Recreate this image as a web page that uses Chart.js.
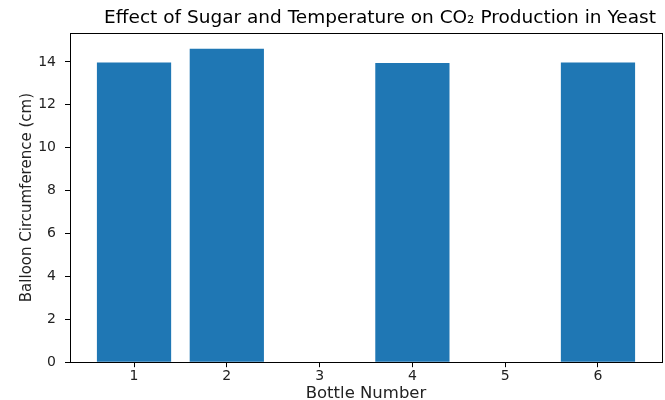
<!DOCTYPE html>
<html>
<head>
<meta charset="utf-8">
<script src="https://cdn.jsdelivr.net/npm/chart.js@4.4.1/dist/chart.umd.min.js"></script>
<style>
  html, body { margin: 0; padding: 0; background: #fff; }
  #wrap { width: 665px; height: 400px; }
</style>
</head>
<body>
<div id="wrap"><canvas id="chart" width="665" height="400"></canvas></div>
<script>
// data
const bottles = [1, 2, 3, 4, 5, 6];
const circumference = [13.97, 14.62, 0, 13.95, 0, 13.97];
const yTicks = [0, 2, 4, 6, 8, 10, 12, 14];

const titleText = "Effect of Sugar and Temperature on CO\u2082 Production in Yeast";
const font = "'DejaVu Sans', sans-serif";

// matplotlib-like frame + title
const framePlugin = {
  id: "frame",
  afterDraw(chart) {
    const { ctx, chartArea: a } = chart;
    ctx.save();
    ctx.strokeStyle = "#000";
    ctx.lineWidth = 1;
    ctx.strokeRect(Math.round(a.left) + 0.5, Math.round(a.top) + 0.5,
      Math.round(a.right - a.left), Math.round(a.bottom - a.top));
    ctx.fillStyle = "#000";
    ctx.font = "18.5px " + font;
    ctx.textAlign = "center";
    ctx.textBaseline = "alphabetic";
    ctx.fillText(titleText, (a.left + a.right) / 2 + 14, a.top - 10);
    ctx.restore();
  },
};

new Chart(document.getElementById("chart").getContext("2d"), {
  type: "bar",
  data: {
    datasets: [
      {
        data: bottles.map((b, i) => ({ x: b, y: circumference[i] })),
        backgroundColor: "#1f77b4",
        borderWidth: 0,
        barPercentage: 0.8,
        categoryPercentage: 1.0,
      },
    ],
  },
  options: {
    responsive: false,
    animation: false,
    layout: { padding: { top: 33, right: 3, left: 20, bottom: 0 } },
    plugins: { legend: { display: false }, tooltip: { enabled: false } },
    scales: {
      x: {
        type: "linear",
        min: 0.31,
        max: 6.69,
        offset: false,
        grid: { display: true, offset: false, drawOnChartArea: false, tickLength: 5, color: "#000", tickColor: "#000" },
        border: { display: false },
        ticks: {
          stepSize: 1,
          includeBounds: false,
          color: "#222",
          font: { family: font, size: 14, lineHeight: 0.9 },
          padding: 3,
          maxRotation: 0,
        },
        title: { display: true, text: "Bottle Number", color: "#222", font: { family: font, size: 16.5, lineHeight: 0.8 }, padding: { top: 1, bottom: 0 } },
      },
      y: {
        min: 0,
        max: 15.35,
        grid: { display: true, drawOnChartArea: false, tickLength: 5, color: "#000", tickColor: "#000" },
        border: { display: false },
        afterBuildTicks(scale) {
          scale.ticks = yTicks.map((v) => ({ value: v }));
        },
        afterFit(scale) {
          scale.width = 50;
        },
        ticks: {
          color: "#222",
          font: { family: font, size: 14 },
          padding: 9,
        },
        title: { display: true, text: "Balloon Circumference (cm)", color: "#222", font: { family: font, size: 15, lineHeight: 1.0 }, padding: { top: 0, bottom: 3 } },
      },
    },
  },
  plugins: [framePlugin],
});
</script>
</body>
</html>
